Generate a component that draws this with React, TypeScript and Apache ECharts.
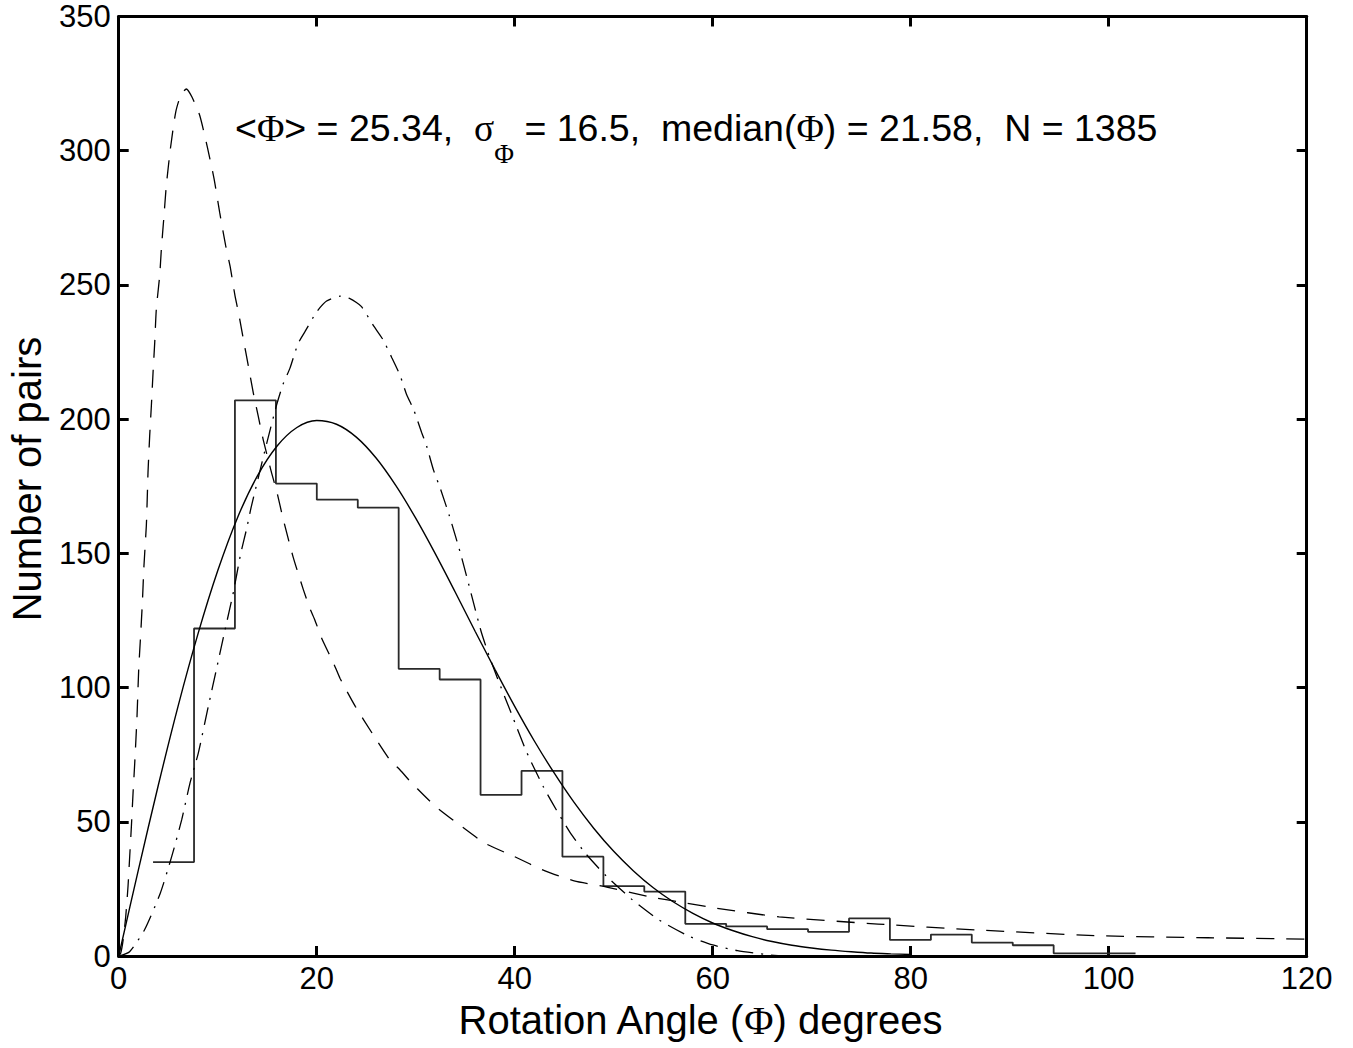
import React, { useEffect, useRef } from "react";
import * as echarts from "echarts";

// Histogram (stairs) of rotation angles
const binEdges = [3.47, 7.61, 11.74, 15.88, 20.01, 24.15, 28.28, 32.42, 36.55, 40.69, 44.82, 48.96, 53.09, 57.23, 61.36, 65.5, 69.63, 73.77, 77.9, 82.04, 86.17, 90.31, 94.44, 98.58, 102.71];
const binCounts = [35, 122, 207, 176, 170, 167, 107, 103, 60, 69, 37, 26, 24, 12, 11, 10, 9, 14, 6, 8, 5, 4, 1, 1];

// Solid curve
const solidAngles = [0, 2, 4, 6, 8, 10, 12, 14, 16, 18, 20, 22, 24, 26, 28, 30, 32, 34, 36, 38, 40, 42, 44, 46, 48, 50, 52, 54, 56, 58, 60, 62, 64, 66, 68, 70, 72, 74, 76, 78, 80];
const solidValues = [0, 32.3, 63.6, 93.1, 119.9, 143.5, 163.3, 178.8, 190.0, 196.9, 199.5, 198.1, 193.3, 185.5, 175.2, 163.1, 149.7, 135.5, 121.0, 106.8, 93.0, 80.0, 68.1, 57.2, 47.5, 39.0, 31.7, 25.4, 20.2, 15.9, 12.3, 9.5, 7.2, 5.4, 4.0, 3.0, 2.2, 1.6, 1.1, 0.8, 0.55];

// Dashed curve
const dashedAngles = [0, 0.2, 0.45, 0.71, 0.94, 1.11, 1.28, 1.45, 1.62, 1.85, 2.02, 2.19, 2.39, 2.55, 2.79, 2.87, 2.96, 3.13, 3.3, 3.47, 3.64, 3.8, 4.14, 4.31, 4.55, 4.81, 5.22, 5.76, 6.3, 6.83, 7.4, 8.18, 8.95, 9.63, 10.2, 10.8, 11.25, 11.75, 12.1, 12.6, 13.1, 13.6, 14.1, 14.6, 15.45, 16.0, 16.6, 17.6, 18.65, 19.3, 19.8, 20.5, 21.7, 22.35, 23.9, 25.6, 27.4, 28.4, 29.6, 30.8, 32, 34.4, 37, 40, 43, 46, 49.3, 53.6, 57.3, 60.4, 66.7, 76.7, 86.7, 98.7, 110, 120];
const dashedValues = [0, 1, 6, 14.7, 25.9, 37, 48.2, 60.7, 71.9, 89.3, 106.7, 117.9, 131.6, 145.3, 160.2, 168.9, 180.1, 193.8, 205, 217.4, 228.6, 241, 253.5, 263.4, 274.6, 287, 300.7, 314.4, 321, 323, 320, 313.2, 301.4, 289.6, 277, 264.7, 257, 245.9, 239.7, 229.6, 219.7, 209.7, 201, 192.3, 179.9, 172.5, 163, 148.9, 136.5, 129.6, 125.3, 118.4, 109.1, 103.5, 93, 83, 73, 69.4, 64.4, 60, 55.7, 48.9, 42, 37, 31.8, 28, 25.7, 22.1, 19.7, 17.8, 14.6, 11.9, 9.7, 7.6, 6.8, 6.3];

// Dash-dot curve
const dashDotAngles = [0, 1.1, 2.6, 4.2, 5.35, 6.36, 7.2, 8.04, 9.05, 9.9, 10.74, 11.6, 12.3, 12.9, 13.4, 14.95, 15.96, 16.6, 17.3, 18.1, 18.8, 20.0, 21.0, 22.35, 23.4, 24.5, 25.7, 26.7, 27.6, 28.4, 29.1, 29.8, 30.6, 31.1, 31.8, 32.5, 33.4, 34.6, 35.6, 36.6, 37.4, 38.2, 39.7, 41.2, 42.9, 44.2, 45.6, 47.2, 49.3, 51.9, 54.6, 57.7, 60, 62.5, 65.5, 67];
const dashDotValues = [0, 1.6, 9.7, 23.4, 37, 50.7, 64.4, 75.6, 93, 107.3, 121.5, 135.8, 149.5, 158.8, 167.5, 191, 205.4, 213, 219, 228, 232.5, 240, 244, 245.8, 244.8, 242, 235, 229.6, 222.8, 216.5, 209, 203.5, 195, 190, 181, 174, 164, 149, 135, 121, 112, 104, 90, 76, 63, 54.5, 46, 38, 29.6, 20.9, 13.4, 7.2, 4.1, 2, 0.5, 0];

const xMin = 0, xMax = 120, xStep = 20;
const yMin = 0, yMax = 350, yStep = 50;

const SANS = "'Liberation Sans', Arial, Helvetica, sans-serif";
const SERIF = "'Liberation Serif', 'Times New Roman', serif";

const pairs = (xs: number[], ys: number[]) => xs.map((x, i) => [x, ys[i]]);

function stairs(edges: number[], counts: number[]) {
  const pts: number[][] = [];
  counts.forEach((c, i) => {
    pts.push([edges[i], c]);
    pts.push([edges[i + 1], c]);
  });
  return pts;
}

export default function App() {
  const ref = useRef<HTMLDivElement>(null);
  useEffect(() => {
    if (!ref.current) return;
    const chart = echarts.init(ref.current, null, { renderer: "svg" });
    const axisLine = { show: true, onZero: false, lineStyle: { color: "#000", width: 3 } };
    const axisTick = { show: true, inside: true, length: 10, lineStyle: { color: "#000", width: 3 } };
    const tickFont = { color: "#000", fontSize: 31, fontFamily: SANS };
    const black = "#000";
    const option: any = {
      animation: false,
      backgroundColor: "#fff",
      grid: { left: 118.7, right: 46.3, top: 16.5, bottom: 92, containLabel: false },
      xAxis: [
        {
          type: "value", min: xMin, max: xMax, interval: xStep, position: "bottom",
          axisLine, axisTick, splitLine: { show: false },
          axisLabel: { ...tickFont, margin: 7, showMinLabel: true, showMaxLabel: true },
        },
        {
          type: "value", min: xMin, max: xMax, interval: xStep, position: "top",
          axisLine, axisTick, splitLine: { show: false }, axisLabel: { show: false },
        },
      ],
      yAxis: [
        {
          type: "value", min: yMin, max: yMax, interval: yStep, position: "left",
          axisLine, axisTick, splitLine: { show: false },
          axisLabel: { ...tickFont, margin: 8, showMinLabel: true, showMaxLabel: true },
        },
        {
          type: "value", min: yMin, max: yMax, interval: yStep, position: "right",
          axisLine, axisTick, splitLine: { show: false }, axisLabel: { show: false },
        },
      ],
      series: [
        {
          type: "line", name: "histogram", data: stairs(binEdges, binCounts),
          showSymbol: false, symbol: "none", silent: true,
          lineStyle: { color: "#2a2a2a", width: 1.8 },
        },
        {
          type: "line", name: "solid", data: pairs(solidAngles, solidValues),
          showSymbol: false, symbol: "none", smooth: 0.3, silent: true,
          lineStyle: { color: black, width: 1.4 },
        },
        {
          type: "line", name: "dashed", data: pairs(dashedAngles, dashedValues),
          showSymbol: false, symbol: "none", smooth: 0.2, silent: true,
          lineStyle: { color: black, width: 1.3, type: [18, 12], cap: "butt" },
        },
        {
          type: "line", name: "dashdot", data: pairs(dashDotAngles, dashDotValues),
          showSymbol: false, symbol: "none", smooth: 0.2, silent: true,
          lineStyle: { color: black, width: 1.3, type: [18, 8, 2, 8], cap: "butt" },
        },
      ],
      graphic: [
        {
          type: "text", x: 235, y: 109, silent: true,
          style: {
            text: "{p|<}{f|Φ}{p|> = 25.34,  }{f|σ}{s|Φ}{p| = 16.5,  median(}{f|Φ}{p|) = 21.58,  N = 1385}",
            fontSize: 37.5, fontFamily: SANS, fill: "#000", verticalAlign: "top", align: "left",
            rich: {
              p: { fontSize: 37.5, fontFamily: SANS, fill: "#000", color: "#000", lineHeight: 37.5, verticalAlign: "top" },
              f: { fontSize: 37.5, fontFamily: SERIF, fill: "#000", color: "#000", lineHeight: 37.5, verticalAlign: "top" },
              s: { fontSize: 27, fontFamily: SERIF, fill: "#000", color: "#000", lineHeight: 27, verticalAlign: "top", padding: [31, 0, 0, 0] },
            },
          },
        },
        {
          type: "text", x: 700, y: 1000, silent: true,
          style: {
            text: "{p|Rotation Angle (}{f|Φ}{p|) degrees}",
            fontSize: 40, fontFamily: SANS, fill: "#000", align: "center", verticalAlign: "top",
            rich: {
              p: { fontSize: 40, fontFamily: SANS, fill: "#000", color: "#000", lineHeight: 40 },
              f: { fontSize: 40, fontFamily: SERIF, fill: "#000", color: "#000", lineHeight: 40 },
            },
          },
        },
        {
          type: "text", x: 27, y: 479, rotation: Math.PI / 2, silent: true,
          style: {
            text: "Number of pairs", fontSize: 40, fontFamily: SANS, fill: "#000",
            align: "center", verticalAlign: "middle",
          },
        },
      ],
    };
    chart.setOption(option);
    return () => chart.dispose();
  }, []);
  return (
    <div
      ref={ref}
      style={{ position: "absolute", left: 0, top: 0, width: 1353, height: 1048, background: "#fff" }}
    />
  );
}
